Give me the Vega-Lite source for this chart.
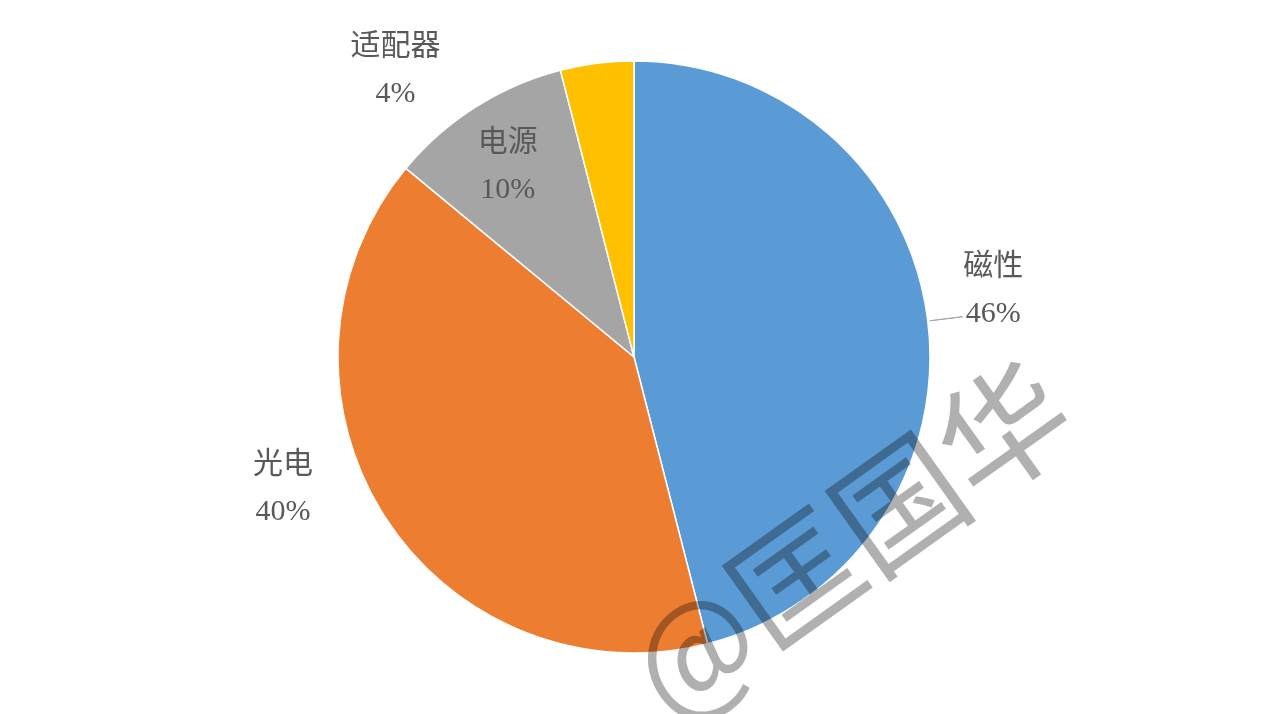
{
  "$schema": "https://vega.github.io/schema/vega-lite/v6.json",
  "width": 1268,
  "height": 714,
  "autosize": {"type": "none"},
  "padding": 0,
  "background": "white",
  "config": {"view": {"stroke": null}},
  "layer": [
    {
      "data": {"values": [
        {"name": "磁性", "value": 46, "pct": "46%", "order": 1},
        {"name": "光电", "value": 40, "pct": "40%", "order": 2},
        {"name": "电源", "value": 10, "pct": "10%", "order": 3},
        {"name": "适配器", "value": 4, "pct": "4%", "order": 4}
      ]},
      "transform": [
        {"stack": "value", "groupby": [], "sort": [{"field": "order"}], "as": ["start", "end"]},
        {"calculate": "(datum.start + datum.end) / 2", "as": "mid"},
        {"calculate": "[datum.name, datum.pct]", "as": "label"}
      ],
      "layer": [
        {
          "mark": {"type": "arc", "radius": 296, "stroke": "white", "strokeWidth": 1.5},
          "encoding": {
            "theta": {"field": "start", "type": "quantitative", "scale": {"domain": [0, 100]}},
            "theta2": {"field": "end"},
            "color": {"field": "name", "type": "nominal", "legend": null,
              "scale": {"domain": ["磁性", "光电", "电源", "适配器"], "range": ["#5B9BD5", "#ED7D31", "#A5A5A5", "#FFC000"]}}
          }
        },
        {
          "transform": [{"filter": "datum.name === '磁性'"}],
          "mark": {"type": "arc", "radius": 331, "radius2": 298, "fill": null, "stroke": "#A6A6A6", "strokeWidth": 1},
          "encoding": {"theta": {"datum": 23.06, "type": "quantitative"}, "theta2": {"datum": 23.06}}
        },
        {
          "transform": [{"filter": "datum.name === '磁性'"}],
          "mark": {"type": "text", "radius": 362, "dy": -46, "fontSize": 30, "lineHeight": 47, "font": "Liberation Serif, Noto Sans CJK SC", "color": "#595959", "align": "center", "baseline": "middle"},
          "encoding": {"theta": {"field": "mid", "type": "quantitative"}, "text": {"field": "label"}}
        },
        {
          "transform": [{"filter": "datum.name === '光电'"}],
          "mark": {"type": "text", "radius": 366, "dx": -42, "dy": -89, "fontSize": 30, "lineHeight": 47, "font": "Liberation Serif, Noto Sans CJK SC", "color": "#595959", "align": "center", "baseline": "middle"},
          "encoding": {"theta": {"field": "mid", "type": "quantitative"}, "text": {"field": "label"}}
        },
        {
          "transform": [{"filter": "datum.name === '电源'"}],
          "mark": {"type": "text", "radius": 230, "dx": -3, "dy": -21, "fontSize": 30, "lineHeight": 47, "font": "Liberation Serif, Noto Sans CJK SC", "color": "#595959", "align": "center", "baseline": "middle"},
          "encoding": {"theta": {"field": "mid", "type": "quantitative"}, "text": {"field": "label"}}
        },
        {
          "transform": [{"filter": "datum.name === '适配器'"}],
          "mark": {"type": "text", "radius": 300, "dx": -201, "dy": -13, "fontSize": 30, "lineHeight": 47, "font": "Liberation Serif, Noto Sans CJK SC", "color": "#595959", "align": "center", "baseline": "middle"},
          "encoding": {"theta": {"field": "mid", "type": "quantitative"}, "text": {"field": "label"}}
        }
      ]
    },
    {
      "data": {"values": [{"wm": "@匡国华"}]},
      "mark": {"type": "text", "radius": 292, "angle": -35.5, "fontSize": 128, "font": "Noto Sans CJK SC", "color": "#B0B0B0", "blend": "multiply", "align": "center", "baseline": "middle"},
      "encoding": {
        "theta": {"datum": 36.3, "type": "quantitative"},
        "text": {"field": "wm"}
      }
    }
  ]
}
